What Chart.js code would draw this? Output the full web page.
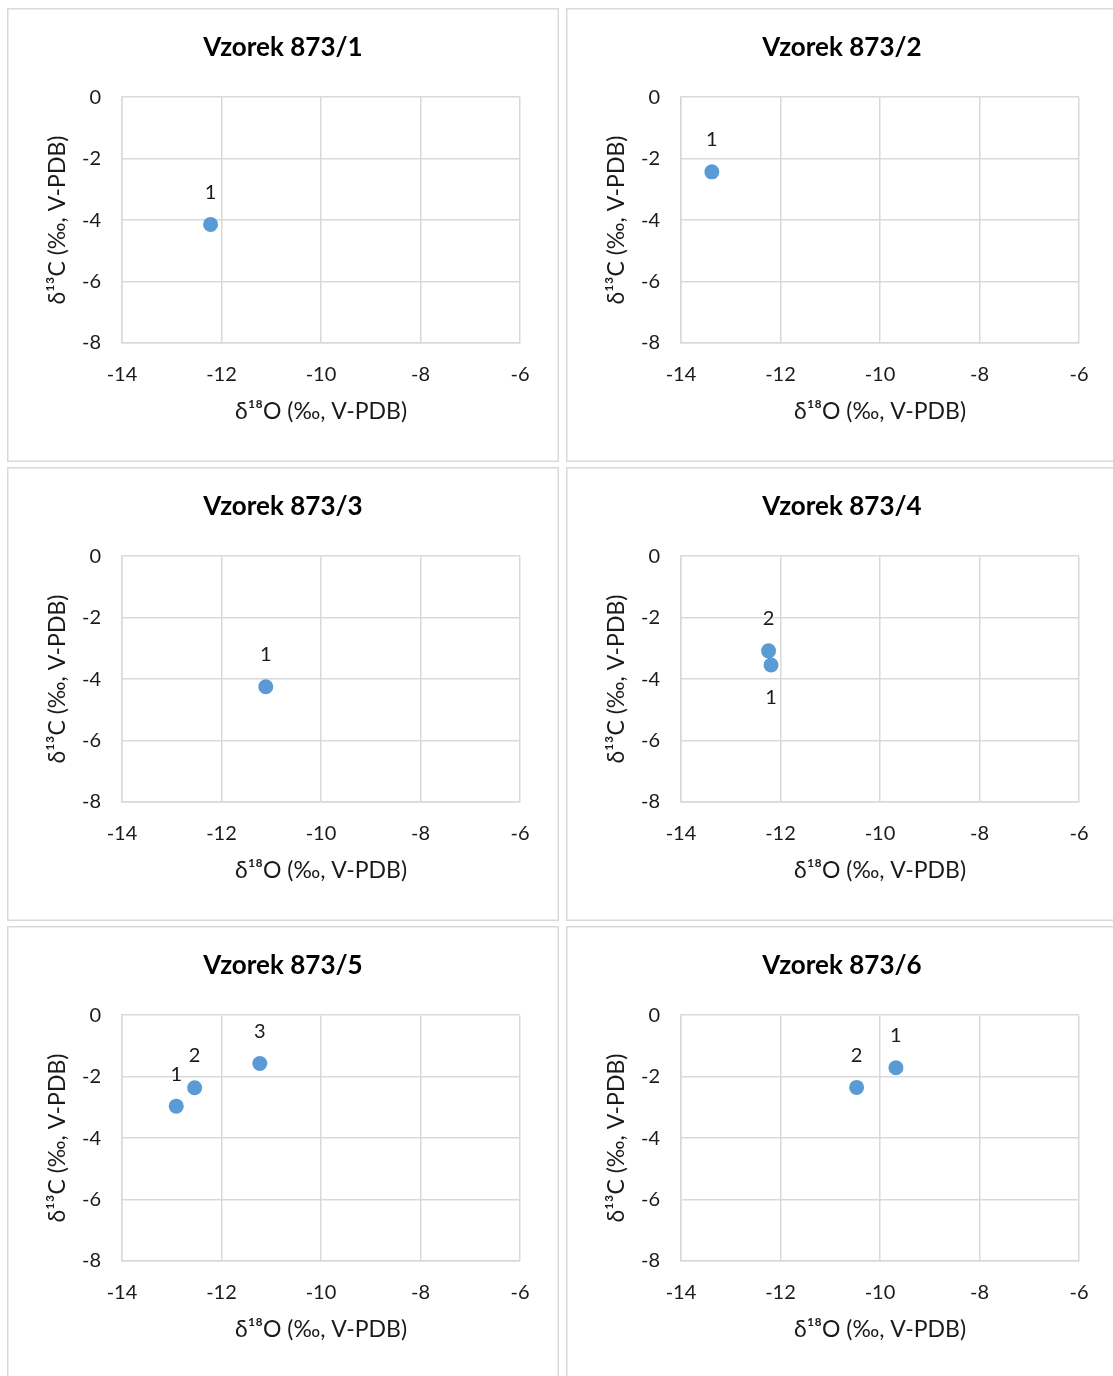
<!DOCTYPE html>
<html>
<head>
<meta charset="utf-8">
<script src="https://cdn.jsdelivr.net/npm/chart.js@4.4.1/dist/chart.umd.min.js"></script>
<style>
  html, body { margin: 0; padding: 0; background: #fff; overflow: hidden; }
  #page { position: relative; width: 1113px; height: 1376px; overflow: hidden; }
  .panel { position: absolute; width: 552px; height: 454px; box-shadow: inset 0 0 0 1.5px #d9d9d9; }
  .panel canvas { position: absolute; left: 0; top: 0; }
</style>
</head>
<body>
<div id="page"></div>
<script>
/* ── data ──────────────────────────────────────────────── */
const panelTitles = ['Vzorek 873/1', 'Vzorek 873/2', 'Vzorek 873/3', 'Vzorek 873/4', 'Vzorek 873/5', 'Vzorek 873/6'];
const xTicks = [-14, -12, -10, -8, -6];
const yTicks = [0, -2, -4, -6, -8];
const xTitle = 'δ¹⁸O (‰, V-PDB)';
const yTitle = 'δ¹³C (‰, V-PDB)';

// δ18O per sample (x)
const d18O = [
  [-12.22],
  [-13.38],
  [-11.11],
  [-12.19, -12.24],
  [-12.91, -12.54, -11.23],
  [-9.68, -10.47]
];
// δ13C per sample (y)
const d13C = [
  [-4.14],
  [-2.43],
  [-4.25],
  [-3.54, -3.08],
  [-2.96, -2.36, -1.57],
  [-1.71, -2.35]
];
const pointNames = [['1'], ['1'], ['1'], ['1', '2'], ['1', '2', '3'], ['1', '2']];
// true = label sits under the point
const nameBelow = [[false], [false], [false], [true, false], [false, false, false], [false, false]];

/* ── layout ─────────────────────────────────────────────── */
const FONT = "Lato, 'Noto Sans', 'DejaVu Sans', sans-serif";
const TEXT = '#1a1a1a';
const GRID = '#d9d9d9';
const BLUE = '#5B9BD5';
const colsX = [7, 566];
const rowsY = [8, 467, 926];

const pointNamePlugin = {
  id: 'pointNames',
  afterDatasetsDraw(chart, args, opts) {
    const meta = chart.getDatasetMeta(0);
    const ctx = chart.ctx;
    ctx.save();
    ctx.font = `20px ${FONT}`;
    ctx.fillStyle = TEXT;
    ctx.textAlign = 'center';
    ctx.textBaseline = 'middle';
    meta.data.forEach((pt, i) => {
      const dy = opts.below[i] ? 33 : -32;
      ctx.fillText(opts.names[i], pt.x, pt.y + dy);
    });
    ctx.restore();
  }
};

const page = document.getElementById('page');

panelTitles.forEach((title, idx) => {
  const panel = document.createElement('div');
  panel.className = 'panel';
  panel.style.left = colsX[idx % 2] + 'px';
  panel.style.top = rowsY[Math.floor(idx / 2)] + 'px';
  const cv = document.createElement('canvas');
  cv.width = 552;
  cv.height = 454;
  cv.style.width = '552px';
  cv.style.height = '454px';
  panel.appendChild(cv);
  page.appendChild(panel);

  const pts = d18O[idx].map((x, i) => ({ x, y: d13C[idx][i] }));

  new Chart(cv, {
    type: 'scatter',
    data: {
      datasets: [{
        data: pts,
        backgroundColor: BLUE,
        borderWidth: 0,
        pointRadius: 7.5,
        pointHoverRadius: 7.5
      }]
    },
    plugins: [pointNamePlugin],
    options: {
      responsive: false,
      animation: false,
      events: [],
      layout: { padding: { left: 0, right: 0, top: 0, bottom: 37 } },
      plugins: {
        legend: { display: false },
        tooltip: { enabled: false },
        title: {
          display: true,
          text: title,
          color: '#000',
          font: { family: FONT, size: 26, weight: 'bold', lineHeight: 1.2 },
          padding: { top: 24, bottom: 34 }
        },
        pointNames: { names: pointNames[idx], below: nameBelow[idx] }
      },
      scales: {
        x: {
          type: 'linear',
          min: xTicks[0],
          max: xTicks[xTicks.length - 1],
          afterBuildTicks: s => { s.ticks = xTicks.map(v => ({ value: v })); },
          afterFit: s => { s.height = 82; },
          grid: { color: GRID, lineWidth: 1.5, drawTicks: false },
          border: { color: GRID, width: 1.5 },
          ticks: { color: TEXT, padding: 20, maxRotation: 0, font: { family: FONT, size: 20 } },
          title: {
            display: true, text: xTitle, color: TEXT,
            font: { family: FONT, size: 23, lineHeight: 1.2 },
            padding: { top: 0, bottom: 0 }
          }
        },
        y: {
          type: 'linear',
          min: yTicks[yTicks.length - 1],
          max: yTicks[0],
          afterBuildTicks: s => { s.ticks = yTicks.slice().reverse().map(v => ({ value: v })); },
          afterFit: s => { s.width = 115; },
          grid: { color: GRID, lineWidth: 1.5, drawTicks: false },
          border: { color: GRID, width: 1.5 },
          ticks: { color: TEXT, padding: 21, font: { family: FONT, size: 20 } },
          title: {
            display: true, text: yTitle, color: TEXT,
            font: { family: FONT, size: 23, lineHeight: 1.2 },
            padding: { top: 37, bottom: 0 }
          }
        },
        // empty right-hand strip so the title centres on the whole panel
        yRight: {
          type: 'linear',
          position: 'right',
          display: true,
          grid: { display: false, drawTicks: false },
          border: { display: false },
          ticks: { display: false },
          afterFit: s => { s.width = 39; }
        }
      }
    }
  });
});
</script>
</body>
</html>
